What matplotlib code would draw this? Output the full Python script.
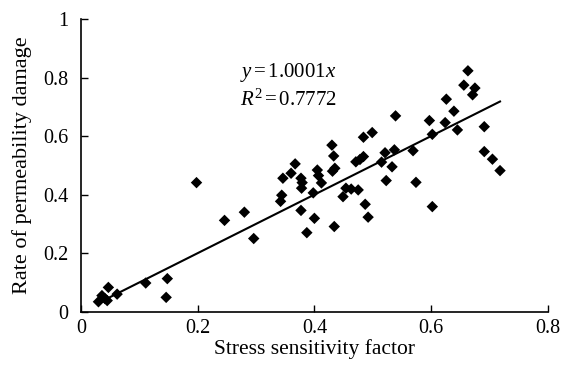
import numpy as np
import matplotlib
matplotlib.use("Agg")
import matplotlib.pyplot as plt

plt.rcParams['font.family'] = ['Liberation Serif', 'DejaVu Serif']
plt.rcParams['mathtext.fontset'] = 'custom'
plt.rcParams['mathtext.rm'] = 'Liberation Serif'
plt.rcParams['mathtext.it'] = 'Liberation Serif:italic'

# Stress sensitivity factor vs. rate of permeability damage
stress_factor = [
    0.030, 0.036, 0.041, 0.047, 0.045, 0.062, 0.111, 0.148, 0.146,
    0.198, 0.246, 0.280, 0.296, 0.344, 0.342, 0.346, 0.360, 0.367,
    0.377, 0.379, 0.378, 0.377, 0.387, 0.398, 0.400,
    0.405, 0.407, 0.412, 0.430, 0.433, 0.431, 0.435, 0.434,
    0.449, 0.454, 0.463, 0.475, 0.471, 0.478, 0.484, 0.484, 0.499,
    0.487, 0.492, 0.515, 0.521, 0.523, 0.533, 0.537, 0.539,
    0.569, 0.574, 0.597, 0.602, 0.602, 0.624, 0.626, 0.639, 0.645,
    0.656, 0.663, 0.675, 0.671, 0.691, 0.691, 0.705, 0.718,
]
damage_rate = [
    0.034, 0.055, 0.045, 0.083, 0.038, 0.060, 0.098, 0.113, 0.049,
    0.441, 0.312, 0.340, 0.250, 0.398, 0.377, 0.456, 0.473, 0.505,
    0.456, 0.441, 0.422, 0.346, 0.270, 0.406, 0.319,
    0.484, 0.465, 0.440, 0.569, 0.532, 0.480, 0.490, 0.291,
    0.393, 0.422, 0.419, 0.416, 0.512, 0.520, 0.530, 0.596, 0.612,
    0.367, 0.323, 0.511, 0.543, 0.448, 0.495, 0.553, 0.669,
    0.550, 0.442, 0.653, 0.606, 0.359, 0.646, 0.726, 0.685, 0.621,
    0.774, 0.823, 0.764, 0.741, 0.632, 0.547, 0.521, 0.482,
]

# Linear fit through the origin
slope = 1.0001
r_squared = 0.7772

x_ticks = [0, 0.2, 0.4, 0.6, 0.8]
y_ticks = [0, 0.2, 0.4, 0.6, 0.8, 1]
x_tick_labels = ['0', '0.2', '0.4', '0.6', '0.8']
y_tick_labels = ['0', '0.2', '0.4', '0.6', '0.8', '1']

fig = plt.figure(figsize=(5.66, 3.65), dpi=100)
ax = fig.add_axes([0.143, 0.146, 0.825, 0.802])

ax.scatter(stress_factor, damage_rate, marker='D', s=34, color='black',
           edgecolors='none', zorder=3)

fit_x = np.array([min(stress_factor) + 0.02, max(stress_factor)])
ax.plot(fit_x, slope * fit_x, color='black', lw=1.5, zorder=2)

ax.set_xlim(0, 0.8)
ax.set_ylim(0, 1)
ax.set_xticks(x_ticks)
ax.set_xticklabels(x_tick_labels)
ax.set_yticks(y_ticks)
ax.set_yticklabels(y_tick_labels)
ax.tick_params(direction='in', length=5, width=1, labelsize=14.5, colors='black')
ax.tick_params(axis='x', pad=5)
ax.tick_params(axis='y', pad=9)

for side in ('top', 'right'):
    ax.spines[side].set_visible(False)
for side in ('left', 'bottom'):
    ax.spines[side].set_linewidth(1.2)

ax.set_xlabel('Stress sensitivity factor', fontsize=15.5, labelpad=1)
ax.set_ylabel('Rate of permeability damage', fontsize=16, labelpad=8)

ax.text(0.273, 0.816, r'$y\,$=$\,$%.4f$x$' % slope, fontsize=15, va='center', ha='left')
ax.text(0.273, 0.724, r'$R^2\,$=$\,$%.4f' % r_squared, fontsize=15, va='center', ha='left')

fig.savefig('out.png', dpi=100)
